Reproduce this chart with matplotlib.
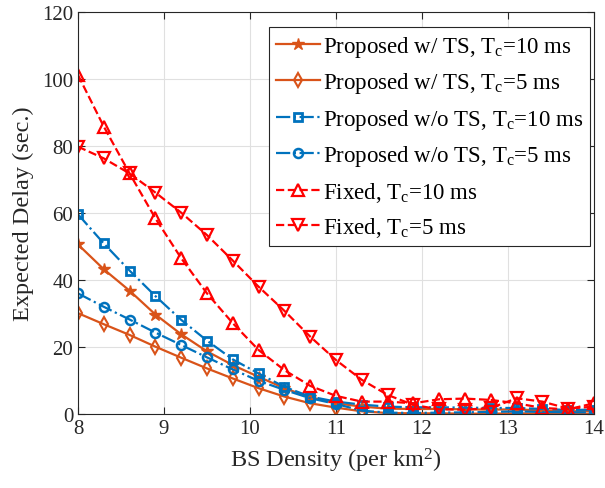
import matplotlib
matplotlib.use("Agg")
import matplotlib.pyplot as plt
import numpy as np

plt.rcParams['font.family'] = ['Liberation Serif', 'DejaVu Serif']
plt.rcParams['mathtext.fontset'] = 'custom'
plt.rcParams['mathtext.rm'] = 'Liberation Serif'
plt.rcParams['mathtext.it'] = 'Liberation Serif:italic'

x = [8.0, 8.3, 8.6, 8.9, 9.2, 9.5, 9.8, 10.1, 10.4, 10.7, 11.0,
     11.3, 11.6, 11.9, 12.2, 12.5, 12.8, 13.1, 13.4, 13.7, 14.0]

ts_10 = [50.6, 43.2, 36.8, 29.7, 23.8, 18.7, 14.6, 11.1, 7.7, 5.0, 3.2,
         2.2, 1.6, 1.5, 1.5, 1.4, 1.3, 1.4, 1.0, 0.8, 0.9]
ts_5 = [30.1, 26.8, 23.6, 20.1, 16.8, 13.6, 10.6, 7.7, 5.2, 3.2, 1.9,
        0.8, 0.3, 0.2, 0.2, 0.1, 0.1, 0.2, 0.1, 0.1, 0.1]
nots_10 = [59.6, 50.9, 42.8, 35.2, 28.1, 21.9, 16.3, 12.1, 8.1, 5.2, 3.7,
           2.8, 2.2, 2.0, 2.0, 1.9, 1.8, 1.8, 1.5, 1.2, 1.3]
nots_5 = [36.0, 32.0, 28.2, 24.3, 20.6, 16.9, 13.3, 9.9, 7.2, 4.7, 3.0,
          1.0, 0.4, 0.3, 0.4, 0.5, 0.6, 0.8, 0.6, 0.5, 0.5]
fixed_10 = [101.2, 85.8, 71.8, 58.4, 46.5, 36.0, 27.1, 19.1, 13.1, 8.4, 5.4,
            3.7, 3.7, 3.2, 4.4, 4.6, 4.2, 3.2, 1.8, 1.4, 3.2]
fixed_5 = [79.8, 76.3, 71.8, 66.1, 60.1, 53.4, 45.8, 38.0, 30.8, 23.1, 16.1,
           10.2, 5.7, 2.7, 1.4, 1.3, 1.8, 4.7, 3.7, 1.6, 2.2]

labels = ["Proposed w/ TS, T$_\\mathrm{c}$=10 ms",
          "Proposed w/ TS, T$_\\mathrm{c}$=5 ms",
          "Proposed w/o TS, T$_\\mathrm{c}$=10 ms",
          "Proposed w/o TS, T$_\\mathrm{c}$=5 ms",
          "Fixed, T$_\\mathrm{c}$=10 ms",
          "Fixed, T$_\\mathrm{c}$=5 ms"]
xticks = [8, 9, 10, 11, 12, 13, 14]
yticks = [0, 20, 40, 60, 80, 100, 120]

orange = '#D95319'
blue = '#0072BD'
red = '#FF0000'

fig = plt.figure(figsize=(6.05, 4.89), dpi=100)
ax = fig.add_axes([78/605, 1 - 415/489, (594-78)/605, (415-13)/489])

lw = 1.6
ax.plot(x, ts_10, '-', color=orange, lw=lw, marker='*', ms=9, mfc=orange, label=labels[0])
ax.plot(x, ts_5, '-', color=orange, lw=lw, marker='d', ms=7, mfc='none', mew=1.5, label=labels[1])
ax.plot(x, nots_10, '-.', color=blue, lw=lw, marker='s', ms=5.5, mfc='none', mew=2.0, label=labels[2])
ax.plot(x, nots_5, '-.', color=blue, lw=lw, marker='o', ms=6.5, mfc='none', mew=1.8, label=labels[3])
ax.plot(x, fixed_10, '--', color=red, lw=lw, marker='^', ms=8, mfc='none', mew=1.6, label=labels[4])
ax.plot(x, fixed_5, '--', color=red, lw=lw, marker='v', ms=8, mfc='none', mew=1.6, label=labels[5])

ax.set_xlim(8, 14)
ax.set_ylim(0, 120)
ax.set_xticks(xticks)
ax.set_yticks(yticks)
ax.tick_params(direction='in', top=True, right=True, labelsize=15, length=5, width=0.8, colors='#262626')
ax.grid(True, color='#e0e0e0', lw=0.8)
for s in ax.spines.values():
    s.set_color('#262626')
    s.set_linewidth(0.8)

ax.set_xlabel("BS Density (per km$^2$)", fontsize=17.5, color='#262626', labelpad=6)
ax.set_ylabel("Expected Delay (sec.)", fontsize=17.5, color='#262626', labelpad=6)

leg = ax.legend(loc='upper right', bbox_to_anchor=(0.993, 0.963), fontsize=16.5,
                fancybox=False, framealpha=1, edgecolor='#262626', handlelength=1.9,
                handletextpad=0.15, borderpad=0.3, labelspacing=0.5, borderaxespad=0.0)
leg.get_frame().set_linewidth(0.8)

fig.savefig("out.png", dpi=100)
